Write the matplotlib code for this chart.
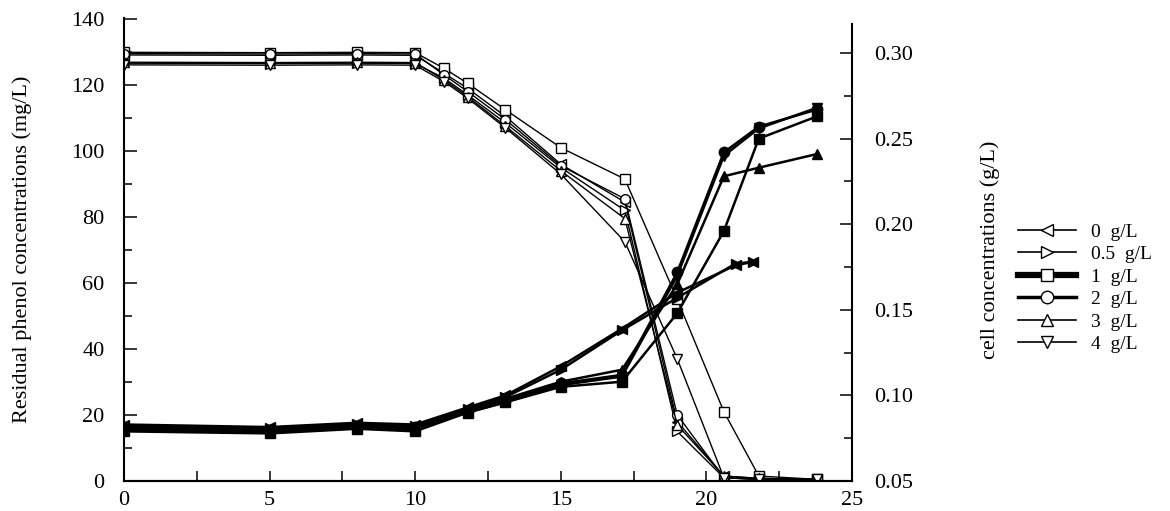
import matplotlib
matplotlib.use("Agg")
import matplotlib.pyplot as plt
from matplotlib.lines import Line2D
from matplotlib.ticker import MultipleLocator

plt.rcParams['font.family'] = ['Liberation Serif', 'DejaVu Serif']

# ---------------- data ----------------
series_labels = ["0  g/L", "0.5  g/L", "1  g/L", "2  g/L", "3  g/L", "4  g/L"]
series_markers = ["<", ">", "s", "o", "^", "v"]

# residual phenol (left axis, mg/L)
t_phenol = [0, 5, 8, 10, 11, 11.8, 13.1, 15, 17.2, 19, 20.6, 21.8, 23.8]
phenol_0 = [129.1, 129.0, 129.1, 129.0, 123.5, 119.0, 110.5, 96.0, 84.5, 18.0, 1.5, 0.8, 0.5]
phenol_05 = [126.6, 126.5, 126.6, 126.5, 122.0, 117.0, 108.5, 95.0, 82.0, 15.0, 1.0, 0.5, 0.5]
phenol_1 = [129.9, 129.8, 129.9, 129.8, 125.0, 120.5, 112.5, 101.0, 91.5, 55.0, 21.0, 1.5, 0.5]
phenol_2 = [129.5, 129.4, 129.5, 129.4, 123.0, 118.0, 109.5, 95.5, 85.5, 20.0, 1.0, 0.5, 0.5]
phenol_3 = [126.9, 126.8, 126.9, 126.8, 121.5, 116.5, 107.5, 94.0, 79.5, 17.0, 1.5, 0.8, 0.5]
phenol_4 = [126.1, 126.0, 126.1, 126.0, 121.0, 116.0, 107.0, 93.0, 72.5, 37.0, 1.0, 0.5, 0.5]

# cell concentrations (right axis, g/L)
t_cell_low = [0, 5, 8, 10, 11.8, 13.1, 15, 17.1, 19, 21.0, 21.6]
t_cell = [0, 5, 8, 10, 11.8, 13.1, 15, 17.1, 19, 20.6, 21.8, 23.8]
cell_0 = [0.0830, 0.0815, 0.0840, 0.0830, 0.093, 0.100, 0.117, 0.139, 0.160, 0.176, 0.178]
cell_05 = [0.0822, 0.0807, 0.0832, 0.0822, 0.092, 0.099, 0.115, 0.138, 0.157, 0.177, 0.178]
cell_1 = [0.0790, 0.0778, 0.0805, 0.0790, 0.090, 0.096, 0.105, 0.108, 0.148, 0.196, 0.250, 0.263]
cell_2 = [0.0814, 0.0799, 0.0824, 0.0814, 0.091, 0.097, 0.107, 0.112, 0.172, 0.242, 0.257, 0.267]
cell_3 = [0.0798, 0.0785, 0.0812, 0.0798, 0.091, 0.098, 0.108, 0.115, 0.165, 0.228, 0.233, 0.241]
cell_4 = [0.0806, 0.0792, 0.0818, 0.0806, 0.090, 0.096, 0.106, 0.111, 0.170, 0.240, 0.256, 0.268]

x_ticks = [0, 5, 10, 15, 20, 25]
left_ticks = [0, 20, 40, 60, 80, 100, 120, 140]
right_ticks = [0.05, 0.10, 0.15, 0.20, 0.25, 0.30]
right_tick_labels = ["0.05", "0.10", "0.15", "0.20", "0.25", "0.30"]

phenol_series = [phenol_0, phenol_05, phenol_1, phenol_2, phenol_3, phenol_4]
cell_series = [(t_cell_low, cell_0), (t_cell_low, cell_05), (t_cell, cell_1),
               (t_cell, cell_2), (t_cell, cell_3), (t_cell, cell_4)]

# ---------------- figure ----------------
W, H = 1170, 511
fig = plt.figure(figsize=(W / 100, H / 100), dpi=100)
L, R, T, B = 124, 852, 18, 481
ax = fig.add_axes([L / W, 1 - B / H, (R - L) / W, (B - T) / H])
ax2 = ax.twinx()

for vals, m in zip(phenol_series, series_markers):
    ax.plot(t_phenol, vals, color='black', lw=1.0, marker=m, ms=7,
            mfc='white', mec='black', mew=1.0)

for (tt, vals), m in zip(cell_series, series_markers):
    ax2.plot(tt, vals, color='black', lw=1.8, marker=m, ms=7.5,
             mfc='black', mec='black')

ax.set_xlim(0, 25)
ax.set_ylim(0, 140.3)
ax2.set_ylim(0.05, 0.05 + (B - T) / 1712)

ax.set_xticks(x_ticks)
ax.xaxis.set_minor_locator(MultipleLocator(2.5))
ax.set_yticks(left_ticks)
ax.yaxis.set_minor_locator(MultipleLocator(10))
ax2.set_yticks(right_ticks)
ax2.set_yticklabels(right_tick_labels)
ax2.yaxis.set_minor_locator(MultipleLocator(0.025))

for a in (ax, ax2):
    a.spines['top'].set_visible(False)
    for s in a.spines.values():
        s.set_linewidth(1.5)
ax.spines['right'].set_visible(False)
ax2.spines['left'].set_visible(False)
ax2.spines['right'].set_bounds(0.05, 0.05 + (B - 24) / 1712)

ax.tick_params(axis='x', which='both', direction='in', length=7, width=1.1,
               labelsize=16, pad=7, top=False)
ax.tick_params(axis='y', which='major', direction='in', length=9, width=1.1,
               labelsize=16, pad=14, right=False)
ax.tick_params(axis='y', which='minor', direction='in', length=6, width=1.1, right=False)
ax2.tick_params(axis='y', which='major', direction='in', length=9, width=1.1,
                labelsize=16, pad=16)
ax2.tick_params(axis='y', which='minor', direction='in', length=6, width=1.1)

fig.text(22 / W, 1 - (T + B) / 2 / H, "Residual phenol concentrations (mg/L)",
         rotation=90, ha='center', va='center', fontsize=16)
fig.text(990 / W, 1 - 250 / H, "cell concentrations (g/L)",
         rotation=90, ha='center', va='center', fontsize=16)

lws = [1.2, 1.2, 4.5, 2.5, 1.2, 1.2]
handles = [Line2D([], [], color='black', lw=lw, marker=m, ms=9, mfc='white',
                  mec='black', mew=1.0) for lw, m in zip(lws, series_markers)]
fig.legend(handles, series_labels, loc='center left',
           bbox_to_anchor=(1018 / W, 1 - 288 / H), frameon=False,
           fontsize=14, handlelength=3.0, handletextpad=0.75,
           labelspacing=0.25, borderpad=0, borderaxespad=0)

fig.savefig("out.png", dpi=100)
